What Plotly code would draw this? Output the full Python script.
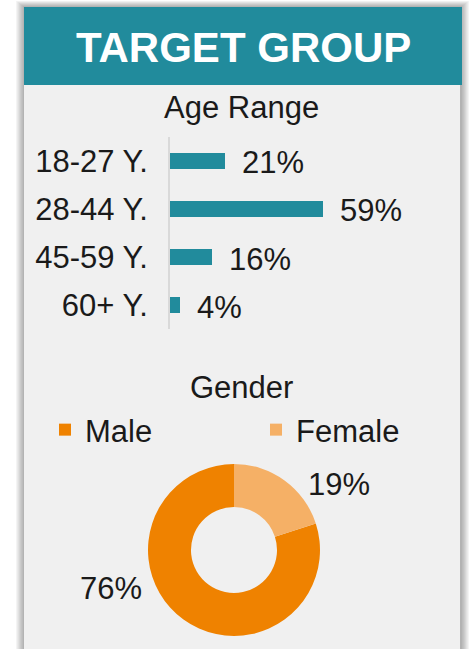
import plotly.graph_objects as go

# ---- data ----
age_groups = ["18-27 Y.", "28-44 Y.", "45-59 Y.", "60+ Y."]
age_share = [21, 59, 16, 4]

genders = ["Male", "Female"]
gender_share = [76, 19]

title_text = "TARGET GROUP"
age_title = "Age Range"
gender_title = "Gender"

# ---- styling ----
W, H = 470, 649
TEAL = "#218B9C"
PANEL = "#F0F0F0"
ORANGE = "#EF8200"
LIGHT_ORANGE = "#F5B066"
INK = "#1A1A1A"
FONT = "Liberation Sans, Arial, sans-serif"
FS = 31


def px(x):
    return x / W


def py(y):
    return 1 - y / H


fig = go.Figure()

# horizontal bars for the age split
fig.add_trace(go.Bar(
    x=age_share, y=age_groups, orientation="h",
    marker=dict(color=TEAL, line=dict(width=0)),
    width=0.34, showlegend=False, hoverinfo="x+y",
    xaxis="x", yaxis="y",
))

# donut for the gender split: rotate so the female slice starts at 12 o'clock
female_angle = 360 * gender_share[1] / sum(gender_share)
fig.add_trace(go.Pie(
    labels=genders, values=gender_share, hole=0.5,
    sort=False, direction="clockwise", rotation=female_angle,
    marker=dict(colors=[ORANGE, LIGHT_ORANGE], line=dict(width=0)),
    textinfo="none", hoverinfo="label+value",
    domain=dict(x=[px(148), px(320)], y=[py(636), py(464)]),
    showlegend=True,
))

shapes = []
# soft drop shadow around the card
for i in range(1, 7):
    shapes.append(dict(
        type="rect", xref="paper", yref="paper", layer="below",
        x0=px(24 - i * 1.3), x1=px(461 + i * 1.3),
        y0=py(H + 10), y1=py(7 - i * 1.0),
        line=dict(width=0), fillcolor="rgba(0,0,0,0.055)",
    ))
# card body
shapes.append(dict(
    type="rect", xref="paper", yref="paper", layer="below",
    x0=px(24), x1=px(460), y0=py(H + 10), y1=py(85),
    line=dict(width=0), fillcolor=PANEL,
))
# header band
shapes.append(dict(
    type="rect", xref="paper", yref="paper", layer="below",
    x0=px(24), x1=px(462), y0=py(85), y1=py(7),
    line=dict(width=0), fillcolor=TEAL,
))

annotations = [
    dict(text=f"<b>{title_text}</b>", x=px(243), y=py(47),
         xref="paper", yref="paper", showarrow=False,
         xanchor="center", yanchor="middle",
         font=dict(family=FONT, size=42, color="white")),
    dict(text=age_title, x=px(242), y=py(107),
         xref="paper", yref="paper", showarrow=False,
         xanchor="center", yanchor="middle",
         font=dict(family=FONT, size=FS, color=INK)),
    dict(text=gender_title, x=px(242), y=py(387),
         xref="paper", yref="paper", showarrow=False,
         xanchor="center", yanchor="middle",
         font=dict(family=FONT, size=FS, color=INK)),
]

# value labels next to each bar
for g, v in zip(age_groups, age_share):
    annotations.append(dict(
        text=f"{v}%", x=v, y=g, xref="x", yref="y",
        showarrow=False, xanchor="left", yanchor="middle",
        xshift=15, yshift=-2,
        font=dict(family=FONT, size=FS, color=INK),
    ))

# donut slice labels
pie_label_pos = {"Male": (111, 588), "Female": (339, 484)}
for g, v in zip(genders, gender_share):
    lx, ly = pie_label_pos[g]
    annotations.append(dict(
        text=f"{v}%", x=px(lx), y=py(ly), xref="paper", yref="paper",
        showarrow=False, xanchor="center", yanchor="middle",
        font=dict(family=FONT, size=FS, color=INK),
    ))

fig.update_layout(
    width=W, height=H,
    margin=dict(l=0, r=0, t=0, b=0),
    paper_bgcolor="white",
    plot_bgcolor="rgba(0,0,0,0)",
    font=dict(family=FONT, size=FS, color=INK),
    shapes=shapes,
    annotations=annotations,
    bargap=0,
    xaxis=dict(
        domain=[px(170), px(430)], range=[0, 100],
        visible=False, fixedrange=True,
    ),
    yaxis=dict(
        domain=[py(329), py(137)],
        categoryorder="array", categoryarray=age_groups,
        range=[3.5, -0.5],
        showline=True, linecolor="#D9D9D9", linewidth=2,
        showgrid=False, zeroline=False,
        ticks="outside", ticklen=14, tickcolor="rgba(0,0,0,0)",
        tickfont=dict(family=FONT, size=FS, color=INK),
        fixedrange=True,
    ),
    legend=dict(
        orientation="h", x=px(45), y=py(430),
        xanchor="left", yanchor="middle",
        bgcolor="rgba(0,0,0,0)",
        font=dict(family=FONT, size=FS, color=INK),
        entrywidth=166, entrywidthmode="pixels",
        itemclick=False, itemdoubleclick=False,
    ),
)

fig.write_html("out.html")
